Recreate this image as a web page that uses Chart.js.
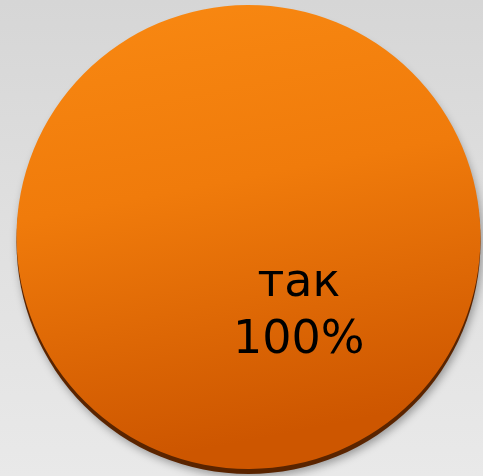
<!DOCTYPE html>
<html>
<head>
<meta charset="utf-8">
<script src="https://cdn.jsdelivr.net/npm/chart.js@4.4.1/dist/chart.umd.min.js"></script>
<style>
	html, body {
		margin: 0;
		padding: 0;
	}
	body {
		width: 483px;
		height: 476px;
		overflow: hidden;
		background: linear-gradient(180deg, #d6d6d6 0%, #e0e0e0 50%, #e9e9e9 100%);
	}
	#wrap {
		position: relative;
		width: 483px;
		height: 476px;
	}
</style>
</head>
<body>
<div id="wrap"><canvas id="pie_chart"></canvas></div>
<script>
// chart data
const CATEGORIES = ['так']
const VALUES = [100]
const PERCENT_LABELS = ['100%']

// orange face, lighter at the top left
function faceGradient(context) {
	const { ctx, chartArea } = context.chart
	if (!chartArea) return '#f07a0c'
	const g = ctx.createLinearGradient(chartArea.left, chartArea.top, chartArea.left + 90, chartArea.bottom)
	g.addColorStop(0, '#f98912')
	g.addColorStop(0.45, '#f07b0b')
	g.addColorStop(1, '#cd5600')
	return g
}

// dark extruded rim + soft shadow under the pie
const rimPlugin = {
	id: 'rim',
	beforeDatasetsDraw(chart) {
		const ctx = chart.ctx
		chart.getDatasetMeta(0).data.forEach(arc => {
			const { x, y, outerRadius } = arc.getProps(['x', 'y', 'outerRadius'], true)
			ctx.save()
			ctx.shadowColor = 'rgba(0, 0, 0, 0.35)'
			ctx.shadowBlur = 9
			ctx.shadowOffsetX = 2
			ctx.shadowOffsetY = 3
			ctx.fillStyle = '#5a2400'
			ctx.beginPath()
			ctx.arc(x, y + 5, outerRadius, 0, Math.PI * 2)
			ctx.fill()
			ctx.restore()
		})
	},
}

// label inside the slice: category + percent
const labelPlugin = {
	id: 'sliceLabels',
	afterDatasetsDraw(chart) {
		const ctx = chart.ctx
		chart.getDatasetMeta(0).data.forEach((arc, i) => {
			const { x, y, startAngle, endAngle, outerRadius } = arc.getProps(['x', 'y', 'startAngle', 'endAngle', 'outerRadius'], true)
			const mid = (startAngle + endAngle) / 2
			const cx = x + Math.cos(mid) * outerRadius * 0.38
			const cy = y + Math.sin(mid) * outerRadius * 0.38
			ctx.save()
			ctx.fillStyle = '#000'
			ctx.font = '46px "DejaVu Sans", Verdana, sans-serif'
			ctx.textAlign = 'center'
			ctx.textBaseline = 'alphabetic'
			ctx.fillText(CATEGORIES[i], cx + 1, cy - 14)
			ctx.fillText(PERCENT_LABELS[i], cx + 1, cy + 43)
			ctx.restore()
		})
	},
}

const ctx = document.getElementById('pie_chart')
const pieChart = new Chart(ctx, {
	type: 'pie',
	data: {
		labels: CATEGORIES,
		datasets: [
			{
				data: VALUES,
				backgroundColor: faceGradient,
				borderWidth: 0,
			},
		],
	},
	options: {
		responsive: true,
		maintainAspectRatio: false,
		animation: false,
		rotation: -34,
		layout: {
			padding: { left: 14, right: 0, top: 5, bottom: 7 },
		},
		plugins: {
			legend: { display: false },
			tooltip: { enabled: false },
		},
	},
	plugins: [rimPlugin, labelPlugin],
})
</script>
</body>
</html>
